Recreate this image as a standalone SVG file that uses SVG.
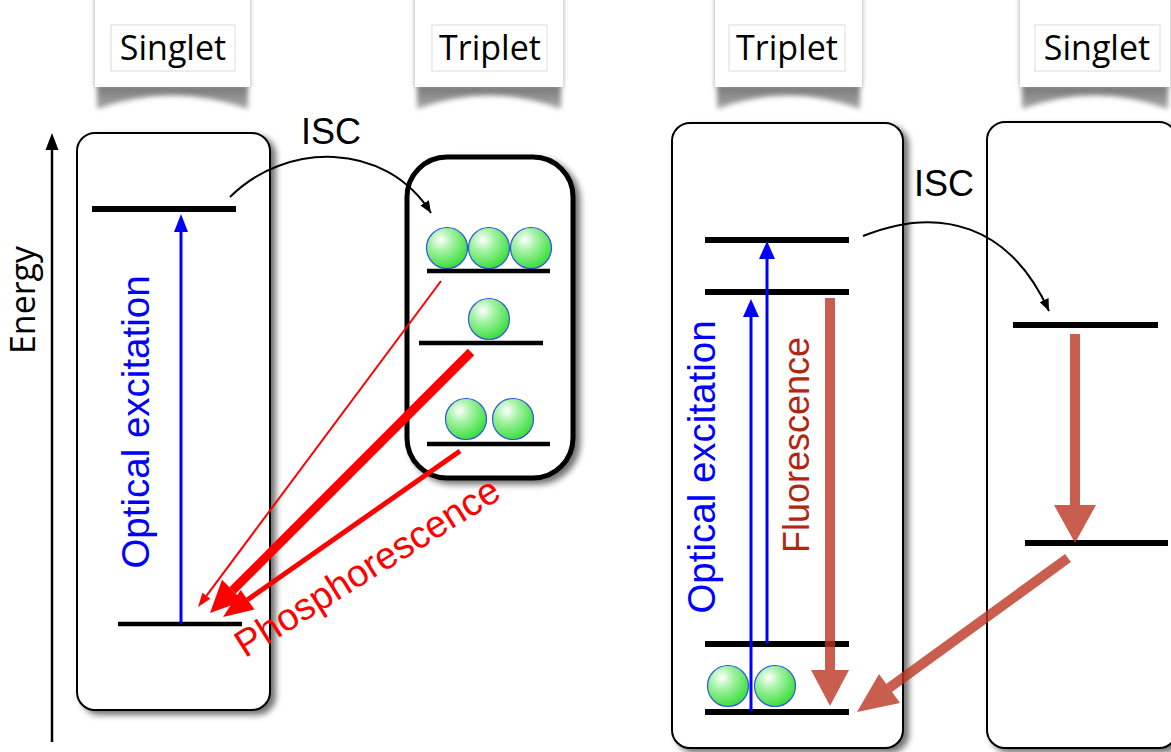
<svg xmlns="http://www.w3.org/2000/svg" width="1171" height="752" viewBox="0 0 1171 752">
<defs>
<style>
.card{fill:#fff;}
.tag{fill:#fff;stroke:#dcdcdc;stroke-width:1;}
.tagtxt{font-family:"Open Sans","DejaVu Sans",sans-serif;font-size:34px;fill:#000;text-anchor:middle;}
.box{fill:#fff;stroke:#000;stroke-width:2;}
.lvl{stroke:#000;stroke-width:6;}
.lvl4{stroke:#000;stroke-width:4.5;}
.ball{fill:url(#gball);stroke:#2f55e6;stroke-width:1.2;}
.lab{font-family:"Liberation Sans",Arial,sans-serif;text-anchor:middle;}
.blue{stroke:#0000ff;stroke-width:3;fill:none;}
.bluef{fill:#0000ff;}
.red{stroke:#ff0000;fill:none;}
.redf{fill:#ff0000;}
.fl{fill:#bb3522;opacity:0.8;}
.flo{stroke:#bb3522;stroke-width:10;fill:none;opacity:0.8;}
.blk{stroke:#000;stroke-width:2;fill:none;}
</style>
<radialGradient id="gball" cx="0.35" cy="0.3" r="0.75">
<stop offset="0" stop-color="#ffffff"/>
<stop offset="0.35" stop-color="#a9f3a9"/>
<stop offset="1" stop-color="#33dd33"/>
</radialGradient>
<linearGradient id="gsh" x1="0" y1="0" x2="0" y2="1">
<stop offset="0" stop-color="#777"/>
<stop offset="1" stop-color="#aaa"/>
</linearGradient>
<filter id="ds" x="-10%" y="-10%" width="130%" height="130%">
<feDropShadow dx="5" dy="4" stdDeviation="3" flood-color="#000" flood-opacity="0.55"/>
</filter>
<filter id="cs" x="-10%" y="-20%" width="120%" height="140%">
<feDropShadow dx="0" dy="0" stdDeviation="2.5" flood-color="#000" flood-opacity="0.35"/>
</filter>
<filter id="bl" x="-10%" y="-50%" width="120%" height="200%">
<feGaussianBlur stdDeviation="2.5"/>
</filter>
<marker id="mblk" viewBox="0 0 12 10" refX="12" refY="5" markerWidth="12" markerHeight="10" markerUnits="userSpaceOnUse" orient="auto">
<path d="M0,0 L12,5 L0,10 z" fill="#000"/>
</marker>
</defs>
<rect width="1171" height="752" fill="#fff"/>

<!-- header cards -->
<g id="card-singlet-left">
<path d="M97,86 L248,86 L248,109 Q172,82 97,109 Z" fill="url(#gsh)" filter="url(#bl)"/>
<rect class="card" x="95" y="-10" width="155" height="97" filter="url(#cs)"/>
<rect class="tag" x="111" y="25" width="124" height="46"/>
<text class="tagtxt" x="173" y="60">Singlet</text>
</g>
<g id="card-triplet-left">
<path d="M417,86 L561,86 L561,109 Q489,82 417,109 Z" fill="url(#gsh)" filter="url(#bl)"/>
<rect class="card" x="415" y="-10" width="148" height="97" filter="url(#cs)"/>
<rect class="tag" x="432" y="25" width="115" height="46"/>
<text class="tagtxt" x="490" y="60">Triplet</text>
</g>
<g id="card-triplet-right">
<path d="M717,86 L860,86 L860,109 Q788,82 717,109 Z" fill="url(#gsh)" filter="url(#bl)"/>
<rect class="card" x="715" y="-10" width="147" height="97" filter="url(#cs)"/>
<rect class="tag" x="729" y="25" width="116" height="46"/>
<text class="tagtxt" x="787" y="60">Triplet</text>
</g>
<g id="card-singlet-right">
<path d="M1022,86 L1168,86 L1168,109 Q1095,82 1022,109 Z" fill="url(#gsh)" filter="url(#bl)"/>
<rect class="card" x="1020" y="-10" width="150" height="97" filter="url(#cs)"/>
<rect class="tag" x="1035" y="25" width="125" height="46"/>
<text class="tagtxt" x="1097" y="60">Singlet</text>
</g>

<!-- energy axis -->
<g id="energy-axis">
<line x1="52" y1="742" x2="52" y2="148" stroke="#000" stroke-width="2.5"/>
<polygon points="52,133 45.5,150 58.5,150" fill="#000"/>
<text transform="translate(35,300) rotate(-90)" font-family="'Open Sans','DejaVu Sans',sans-serif" font-size="34" text-anchor="middle">Energy</text>
</g>

<!-- left singlet box -->
<g id="box-singlet-left">
<rect class="box" x="77" y="133" width="193" height="577" rx="18" filter="url(#ds)"/>
<line class="lvl" x1="92" y1="209" x2="236" y2="209"/>
<line class="lvl4" x1="118" y1="624" x2="242" y2="624"/>
</g>

<!-- left triplet box -->
<g id="box-triplet-left">
<rect x="407" y="157" width="166" height="321" rx="40" fill="#fff" stroke="#000" stroke-width="5" filter="url(#ds)"/>
<circle class="ball" cx="447" cy="248" r="20.5"/>
<circle class="ball" cx="489" cy="248" r="20.5"/>
<circle class="ball" cx="531" cy="248" r="20.5"/>
<line class="lvl4" x1="427" y1="271" x2="550" y2="271"/>
<circle class="ball" cx="489" cy="319" r="20.5"/>
<line class="lvl4" x1="419" y1="343" x2="543" y2="343"/>
<circle class="ball" cx="466" cy="419" r="20.5"/>
<circle class="ball" cx="513" cy="419" r="20.5"/>
<line class="lvl4" x1="427" y1="444" x2="550" y2="444"/>
</g>

<!-- right triplet box -->
<g id="box-triplet-right">
<rect class="box" x="672" y="123" width="231" height="625" rx="18" filter="url(#ds)"/>
<line class="lvl" x1="705" y1="240" x2="849" y2="240"/>
<line class="lvl" x1="705" y1="292" x2="849" y2="292"/>
<line class="lvl" x1="705" y1="644" x2="849" y2="644"/>
<line class="lvl" x1="705" y1="712" x2="849" y2="712"/>
<circle class="ball" cx="728" cy="686" r="20.5"/>
<circle class="ball" cx="775" cy="686" r="20.5"/>
</g>

<!-- right singlet box -->
<g id="box-singlet-right">
<rect class="box" x="987" y="122" width="190" height="626" rx="18" filter="url(#ds)"/>
<line class="lvl" x1="1013" y1="325" x2="1158" y2="325"/>
<line class="lvl" x1="1025" y1="543" x2="1168" y2="543"/>
</g>

<!-- connectors -->
<g id="connectors">
<path class="blk" d="M230,197 C285,142 385,140 431,213" marker-end="url(#mblk)"/>
<path class="blk" d="M863,236 C940,205 1010,225 1049,311" marker-end="url(#mblk)"/>

<line class="blue" x1="181" y1="624" x2="181" y2="230"/>
<polygon class="bluef" points="181,214 174,232 188,232"/>
<line class="blue" x1="751" y1="711" x2="751" y2="314"/>
<polygon class="bluef" points="751,299 743,317 759,317"/>
<line class="blue" x1="767" y1="644" x2="767" y2="256"/>
<polygon class="bluef" points="767,241 759,259 775,259"/>

<line class="red" stroke-width="2" x1="441" y1="281" x2="206.4" y2="595.8"/>
<polygon class="redf" points="198,607 210.4,598.8 202.4,592.8"/>
<line class="red" stroke-width="9" x1="471" y1="352" x2="232.6" y2="590.4"/>
<polygon class="redf" points="210,613 243.2,601.0 222.0,579.8"/>
<line class="red" stroke-width="5" x1="460" y1="451" x2="247.6" y2="599.8"/>
<polygon class="redf" points="223,617 254.5,609.6 240.7,590.0"/>

<line class="flo" x1="830" y1="298" x2="830" y2="670"/>
<polygon class="fl" points="811,670 849,670 830,706"/>
<line class="flo" x1="1075" y1="334" x2="1075" y2="505"/>
<polygon class="fl" points="1054,505 1096,505 1075,543"/>
<line class="flo" x1="1068" y1="558" x2="889" y2="688"/>
<polygon class="fl" points="857,712 879,674 900,703"/>
</g>

<!-- labels -->
<g id="labels">
<text class="lab" x="331" y="144" font-size="36">ISC</text>
<text class="lab" x="944" y="196" font-size="36">ISC</text>
<text class="lab" transform="translate(149,422) rotate(-90)" font-size="38.5" fill="#0000ff">Optical excitation</text>
<text class="lab" transform="translate(715,467) rotate(-90)" font-size="38.5" fill="#0000ff">Optical excitation</text>
<text class="lab" transform="translate(809,445) rotate(-90)" font-size="36" fill="#b3260e">Fluorescence</text>
<text class="lab" transform="translate(374,578) rotate(-32)" font-size="38" fill="#ff0000">Phosphorescence</text>
</g>
</svg>
